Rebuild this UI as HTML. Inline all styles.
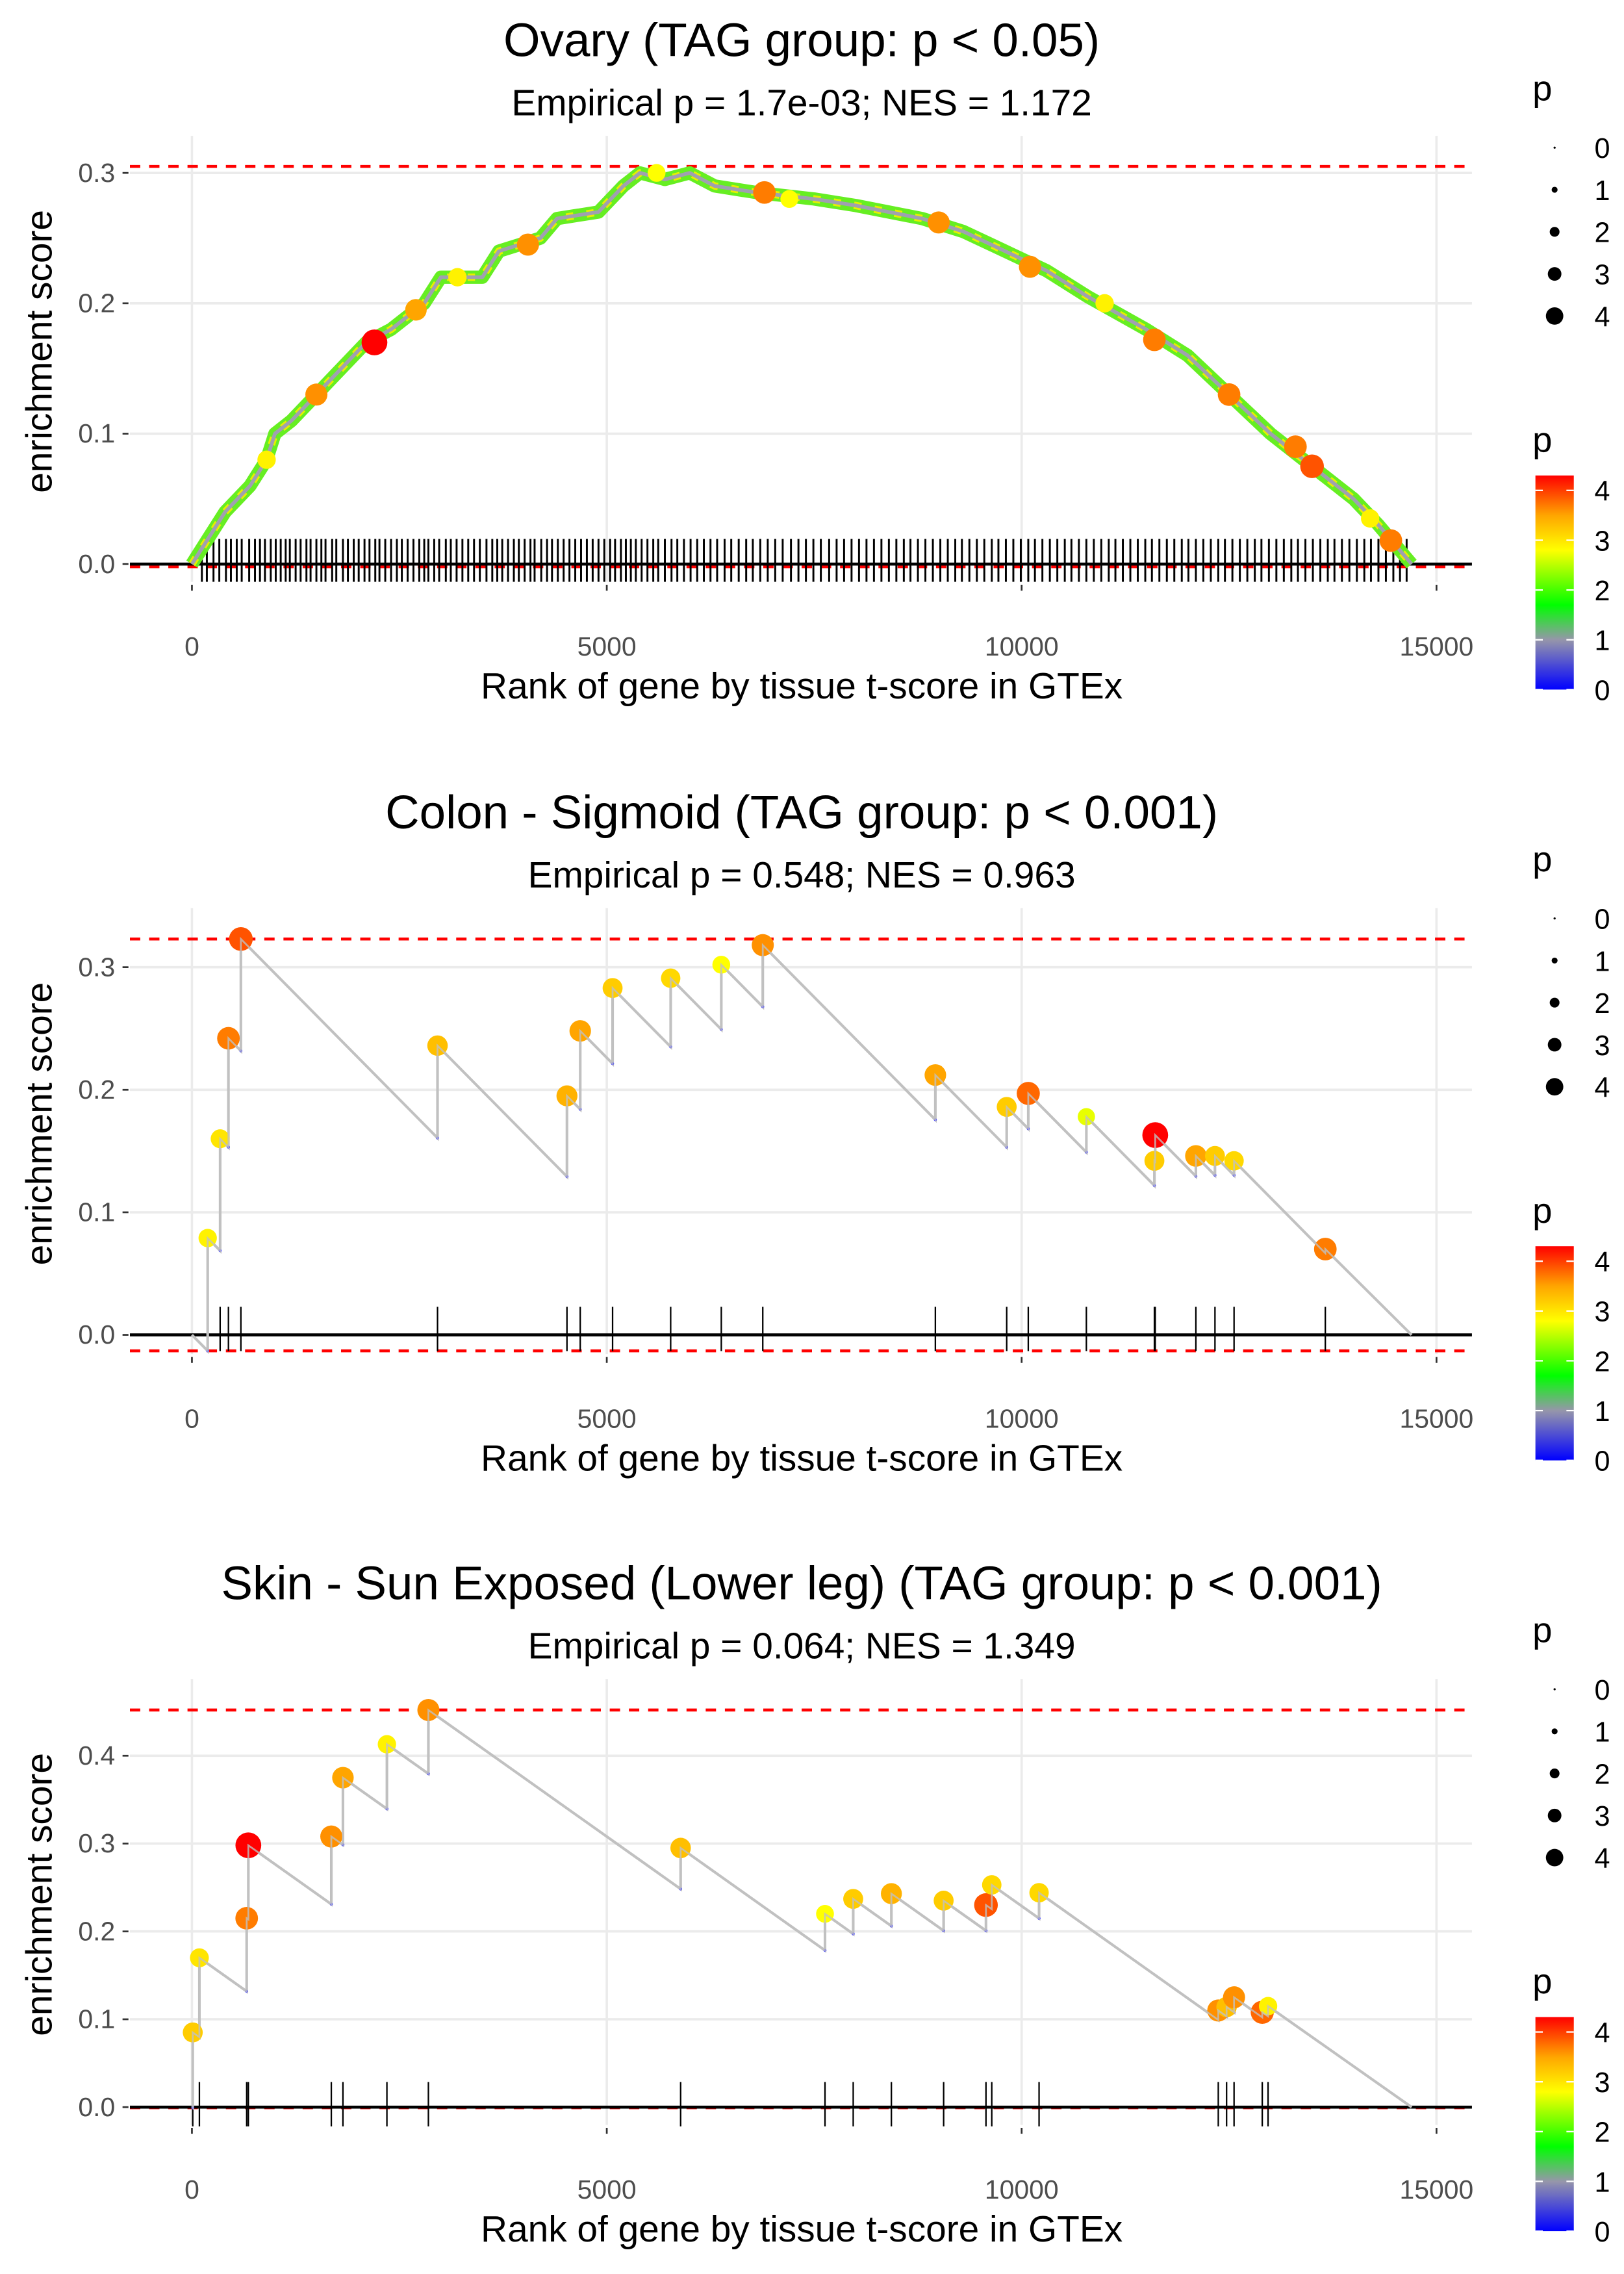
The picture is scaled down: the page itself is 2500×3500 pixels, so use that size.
<!DOCTYPE html>
<html><head><meta charset="utf-8"><style>
html,body{margin:0;padding:0;background:#fff}
svg{display:block}
text{font-family:"Liberation Sans",Arial,sans-serif}
</style></head><body>
<svg id="chart" xmlns="http://www.w3.org/2000/svg" width="2500" height="3500" viewBox="0 0 1100 1540"></svg>
<script>
// ---------- DATA ----------
const xTicks = [0, 5000, 10000, 15000];
const legendSizes = [0, 1, 2, 3, 4];
const colorbarTicks = [0, 1, 2, 3, 4];

// Panel 1: Ovary
const p1Title = "Ovary (TAG group: p < 0.05)";
const p1Sub = "Empirical p = 1.7e-03; NES = 1.172";
const p1YTicks = [0.0, 0.1, 0.2, 0.3];
const p1CurveRank = [0,200,400,700,900,1000,1200,1500,1800,2100,2400,2800,3000,3500,3700,4200,4400,4900,5200,5400,5700,6000,6300,6800,7500,8000,8800,9300,9800,10300,10800,11500,12000,12500,13000,13500,14000,14300,14500,14700];
const p1CurveES = [0,0.02,0.04,0.06,0.08,0.10,0.11,0.13,0.15,0.17,0.18,0.20,0.22,0.22,0.24,0.25,0.265,0.27,0.29,0.30,0.295,0.30,0.29,0.285,0.28,0.275,0.265,0.255,0.24,0.225,0.205,0.18,0.16,0.13,0.10,0.075,0.05,0.03,0.015,0];
const p1BigRank = [1500,2200,2700,4050,6900,9000,10100,11600,12500,13300,13500,14450,900,3200,5600,7200,11000,14200];
const p1BigES = [0.13,0.17,0.195,0.245,0.285,0.262,0.228,0.172,0.13,0.09,0.075,0.018,0.08,0.22,0.30,0.28,0.2,0.035];
const p1BigP = [3.6,4.3,3.5,3.6,3.7,3.6,3.6,3.7,3.7,3.7,3.9,3.7,2.9,2.9,2.8,2.8,2.9,2.9];
const p1Hits = [120,180,260,330,410,470,540,600,690,760,820,880,950,1010,1070,1130,1180,1250,1310,1380,1430,1500,1560,1610,1690,1740,1820,1880,1950,2010,2080,2140,2210,2260,2330,2400,2470,2530,2600,2670,2740,2800,2850,2920,2980,3060,3120,3190,3260,3330,3400,3470,3550,3620,3680,3740,3810,3880,3940,4010,4080,4130,4210,4280,4340,4410,4480,4550,4620,4690,4760,4830,4900,4970,5040,5100,5170,5230,5290,5350,5420,5490,5560,5620,5700,5780,5850,5930,6010,6090,6170,6250,6330,6420,6500,6590,6680,6760,6850,6940,7030,7120,7220,7310,7400,7490,7580,7680,7770,7860,7950,8040,8130,8220,8310,8400,8490,8580,8660,8750,8840,8930,9020,9110,9200,9280,9370,9460,9550,9640,9720,9810,9900,9990,10080,10160,10250,10340,10430,10520,10600,10690,10780,10870,10960,11050,11130,11220,11310,11400,11490,11570,11660,11750,11840,11930,12010,12100,12190,12280,12370,12450,12540,12630,12720,12810,12890,12980,13070,13160,13250,13330,13420,13510,13600,13690,13770,13860,13950,14040,14130,14210,14300,14390,14480,14560,14640];

// Panel 2: Colon - Sigmoid
const p2Title = "Colon - Sigmoid (TAG group: p < 0.001)";
const p2Sub = "Empirical p = 0.548; NES = 0.963";
const p2YTicks = [0.0, 0.1, 0.2, 0.3];
const p2HitRank = [190,340,440,590,2960,4520,4680,5070,5770,6380,6880,8960,9820,10080,10780,11600,11610,12100,12330,12560,13660];
const p2HitES = [0.079,0.160,0.242,0.323,0.236,0.195,0.248,0.283,0.291,0.302,0.318,0.212,0.186,0.197,0.178,0.142,0.163,0.146,0.146,0.142,0.070];
const p2HitP = [2.9,3.0,3.7,3.9,3.3,3.4,3.5,3.2,3.1,2.8,3.6,3.5,3.2,3.8,2.7,3.2,4.3,3.5,3.2,3.1,3.7];
const p2MissStep = 0.0000685;

// Panel 3: Skin
const p3Title = "Skin - Sun Exposed (Lower leg) (TAG group: p < 0.001)";
const p3Sub = "Empirical p = 0.064; NES = 1.349";
const p3YTicks = [0.0, 0.1, 0.2, 0.3, 0.4];
const p3HitRank = [10,90,660,680,1680,1820,2350,2850,5890,7630,7970,8430,9060,9570,9640,10210,12370,12470,12560,12900,12970];
const p3HitES = [0.085,0.170,0.215,0.298,0.308,0.375,0.413,0.452,0.295,0.220,0.237,0.243,0.235,0.230,0.253,0.244,0.110,0.114,0.125,0.108,0.115];
const p3HitP = [3.2,3.0,3.7,4.3,3.6,3.5,2.9,3.6,3.3,2.8,3.2,3.4,3.2,3.9,3.1,3.1,3.6,3.3,3.6,3.8,2.9];
const p3MissStep = 0.000067;
const nGenes = 14700;

// ---------- RENDER ----------
const svg = document.getElementById('chart');
const NS = 'http://www.w3.org/2000/svg';
function mk(tag, attrs, parent){const e=document.createElementNS(NS,tag);for(const k in attrs)e.setAttribute(k,attrs[k]);(parent||svg).appendChild(e);return e;}
function txt(s, attrs, parent){const e=mk('text',attrs,parent);e.textContent=s;return e;}
const stops=[[0,[0,0,255]],[1,[150,150,170]],[1.7,[0,255,0]],[2.8,[255,255,0]],[3.5,[255,165,0]],[4.3,[255,0,0]]];
function pColor(p){
  for(let i=1;i<stops.length;i++){if(p<=stops[i][0]){const a=stops[i-1],b=stops[i];const t=(p-a[0])/(b[0]-a[0]);
    const c=a[1].map((v,j)=>Math.round(v+(b[1][j]-v)*t));return `rgb(${c[0]},${c[1]},${c[2]})`;}}
  return 'rgb(255,0,0)';
}
function pRad(p){return 1+1.8*p;}

const X0=130, XPER=0.0562;
function xs(r){return X0+r*XPER;}

function frame(g, top, yZero, yPer, yTicks, title, sub){
  const L=88,R=997,T=top,B=top+302;
  const ys=v=>yZero-v*yPer*100;
  txt(title,{x:543,y:top-54,'font-size':32,'text-anchor':'middle',fill:'#000',},g);
  txt(sub,{x:543,y:top-14,'font-size':25,'text-anchor':'middle',fill:'#000',},g);
  yTicks.forEach(v=>{
    mk('line',{x1:L,x2:R,y1:ys(v),y2:ys(v),stroke:'#ebebeb','stroke-width':1.6,},g);
    mk('line',{x1:83,x2:87,y1:ys(v),y2:ys(v),stroke:'#333','stroke-width':1.2,},g);
    txt(v.toFixed(1),{x:78,y:ys(v)+6,'font-size':18,'text-anchor':'end',fill:'#4d4d4d',},g);
  });
  xTicks.forEach(v=>{
    mk('line',{x1:xs(v),x2:xs(v),y1:T,y2:B,stroke:'#ebebeb','stroke-width':1.6,},g);
    mk('line',{x1:xs(v),x2:xs(v),y1:B+2,y2:B+6,stroke:'#333','stroke-width':1.2,},g);
    txt(String(v),{x:xs(v),y:B+50,'font-size':18,'text-anchor':'middle',fill:'#4d4d4d',},g);
  });
  txt('Rank of gene by tissue t-score in GTEx',{x:543,y:B+79,'font-size':25,'text-anchor':'middle',fill:'#000',},g);
  txt('enrichment score',{x:0,y:0,'font-size':25,'text-anchor':'middle',fill:'#000',transform:`translate(35,${(T+B)/2-5}) rotate(-90)`,},g);
  return {ys,L,R,T,B};
}
function legend(g, off){
  txt('p',{x:1038,y:68+off,'font-size':24,fill:'#000',},g);
  legendSizes.forEach((s,i)=>{
    const y=100+i*28.5+off;
    mk('circle',{cx:1053,cy:y,r:pRad(s)*0.72,fill:'#000',},g);
    txt(String(s),{x:1080,y:y+7,'font-size':19,fill:'#000',},g);
  });
  txt('p',{x:1038,y:306+off,'font-size':24,fill:'#000',},g);
  const bt=322+off,bb=467+off,vTop=4.3;
  mk('rect',{x:1040,y:bt,width:26,height:bb-bt,fill:`url(#cbar)`,},g);
  colorbarTicks.forEach(v=>{
    const y=bb-(v/vTop)*(bb-bt);
    mk('line',{x1:1040,x2:1045,y1:y,y2:y,stroke:'#fff','stroke-width':1},g);
    mk('line',{x1:1061,x2:1066,y1:y,y2:y,stroke:'#fff','stroke-width':1},g);
    txt(String(v),{x:1080,y:y+7,'font-size':19,fill:'#000',},g);
  });
}
const defs=mk('defs',{});
const lg=mk('linearGradient',{id:'cbar',x1:0,y1:1,x2:0,y2:0},defs);
stops.forEach(s=>mk('stop',{offset:(s[0]/4.3),'stop-color':pColor(s[0])},lg));

function refLines(g,f,maxES,minES){
  mk('line',{x1:f.L,x2:f.R,y1:f.ys(maxES),y2:f.ys(maxES),stroke:'#ff0000','stroke-width':2,'stroke-dasharray':'7,6',},g);
  mk('line',{x1:f.L,x2:f.R,y1:f.ys(minES),y2:f.ys(minES),stroke:'#ff0000','stroke-width':2,'stroke-dasharray':'7,6',},g);
}

// ---- Panel 1
(function(){
  const g=mk('g',{});
  const f=frame(g,92,382,8.83,p1YTicks,p1Title,p1Sub);
  refLines(g,f,Math.max(...p1CurveES)+0.005,-0.002);
  p1Hits.forEach(r=>mk('line',{x1:xs(r),x2:xs(r),y1:365,y2:394,stroke:'#000','stroke-width':1.3,},g));
  mk('line',{x1:f.L,x2:f.R,y1:f.ys(0),y2:f.ys(0),stroke:'#000','stroke-width':2,},g);
  const pts=p1CurveRank.map((r,i)=>xs(r)+','+f.ys(p1CurveES[i])).join(' ');
  mk('polyline',{points:pts,fill:'none',stroke:'#66ee22','stroke-width':9,'stroke-linejoin':'round',},g);
  mk('polyline',{points:pts,fill:'none',stroke:'#e6f000','stroke-width':5,'stroke-dasharray':'5,9','stroke-linejoin':'round'},g);
  mk('polyline',{points:pts,fill:'none',stroke:'#a0a0b0','stroke-width':2.5,'stroke-linejoin':'round',},g);
  p1BigRank.forEach((r,i)=>{const c=mk('circle',{cx:xs(r),cy:f.ys(p1BigES[i]),r:pRad(p1BigP[i]),fill:pColor(p1BigP[i])},g);
    
    });
  legend(g,0);
})();

function stepPanel(name,top,yZero,yPer,yTicks,title,sub,ranks,es,ps,step,off,tickTop,tickBot){
  const g=mk('g',{});
  const f=frame(g,top,yZero,yPer,yTicks,title,sub);
  let pts=[[0,0]];let prevR=0,prevE=0;const valleys=[];
  ranks.forEach((r,i)=>{const v=prevE-step*(r-prevR);pts.push([r,v]);valleys.push([r,v]);pts.push([r,es[i]]);prevR=r;prevE=es[i];});
  pts.push([nGenes,0]);
  let minES=Math.min(0,...valleys.map(v=>v[1]));
  refLines(g,f,Math.max(...es),minES);
  ranks.forEach(r=>mk('line',{x1:xs(r),x2:xs(r),y1:tickTop,y2:tickBot,stroke:'#000','stroke-width':1,},g));
  mk('line',{x1:f.L,x2:f.R,y1:f.ys(0),y2:f.ys(0),stroke:'#000','stroke-width':2,},g);
  mk('polyline',{points:pts.map(p=>xs(p[0])+','+f.ys(p[1])).join(' '),fill:'none',stroke:'#c0c0c0','stroke-width':1.8,},g);
  valleys.forEach(v=>mk('circle',{cx:xs(v[0]),cy:f.ys(v[1]),r:1,fill:'#4040ff'},g));
  ranks.forEach((r,i)=>{const c=mk('circle',{cx:xs(r),cy:f.ys(es[i]),r:pRad(ps[i]),fill:pColor(ps[i])},g);
    
    });
  mk('polyline',{points:pts.map(p=>xs(p[0])+','+f.ys(p[1])).join(' '),fill:'none',stroke:'#c0c0c0','stroke-width':1.2,opacity:0.8},g);
  legend(g,off);
}
stepPanel('panel-colon-sigmoid',615,904,8.3,p2YTicks,p2Title,p2Sub,p2HitRank,p2HitES,p2HitP,p2MissStep,522,885,915);
stepPanel('panel-skin-sun-exposed',1137,1427,5.95,p3YTicks,p3Title,p3Sub,p3HitRank,p3HitES,p3HitP,p3MissStep,1044,1410,1440);
</script>
</body></html>
